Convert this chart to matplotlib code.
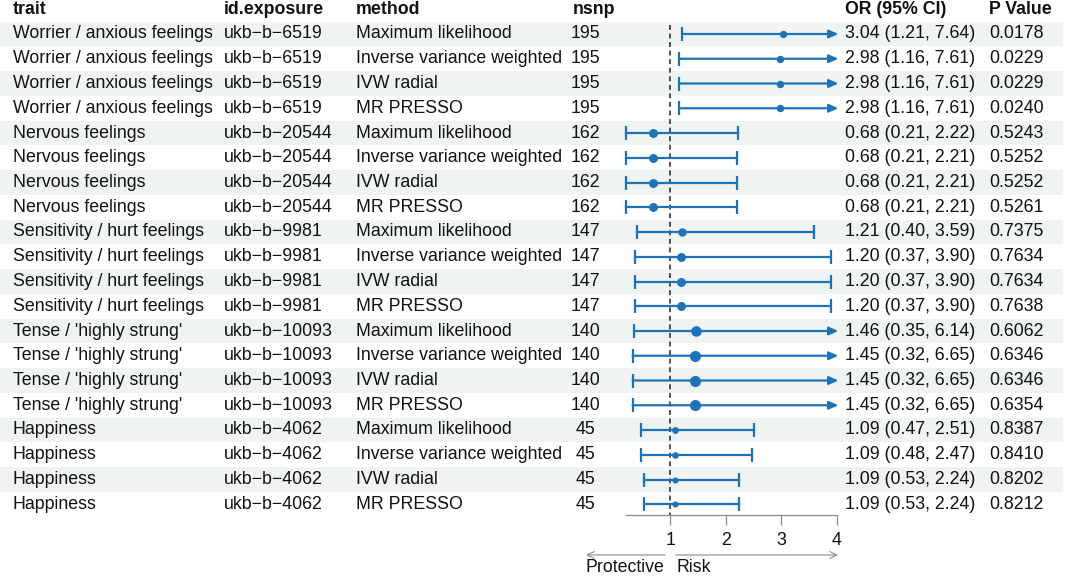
import numpy as np
import matplotlib
matplotlib.use("Agg")
import matplotlib.pyplot as plt
from matplotlib.patches import Rectangle

plt.rcParams['font.family'] = ['Liberation Sans', 'DejaVu Sans']

# ---------------- data ----------------
traits = (["Worrier / anxious feelings"] * 4 + ["Nervous feelings"] * 4 +
          ["Sensitivity / hurt feelings"] * 4 + ["Tense / 'highly strung'"] * 4 +
          ["Happiness"] * 4)
exposures = (["ukb\u2212b\u22126519"] * 4 + ["ukb\u2212b\u221220544"] * 4 +
             ["ukb\u2212b\u22129981"] * 4 + ["ukb\u2212b\u221210093"] * 4 +
             ["ukb\u2212b\u22124062"] * 4)
methods = ["Maximum likelihood", "Inverse variance weighted", "IVW radial", "MR PRESSO"] * 5
nsnp = [195] * 4 + [162] * 4 + [147] * 4 + [140] * 4 + [45] * 4
or_est = [3.04, 2.98, 2.98, 2.98,
          0.68, 0.68, 0.68, 0.68,
          1.21, 1.20, 1.20, 1.20,
          1.46, 1.45, 1.45, 1.45,
          1.09, 1.09, 1.09, 1.09]
or_low = [1.21, 1.16, 1.16, 1.16,
          0.21, 0.21, 0.21, 0.21,
          0.40, 0.37, 0.37, 0.37,
          0.35, 0.32, 0.32, 0.32,
          0.47, 0.48, 0.53, 0.53]
or_high = [7.64, 7.61, 7.61, 7.61,
           2.22, 2.21, 2.21, 2.21,
           3.59, 3.90, 3.90, 3.90,
           6.14, 6.65, 6.65, 6.65,
           2.51, 2.47, 2.24, 2.24]
pvals = [0.0178, 0.0229, 0.0229, 0.0240,
         0.5243, 0.5252, 0.5252, 0.5261,
         0.7375, 0.7634, 0.7634, 0.7638,
         0.6062, 0.6346, 0.6346, 0.6354,
         0.8387, 0.8410, 0.8202, 0.8212]
headers = ["trait", "id.exposure", "method", "nsnp", "OR (95% CI)", "P Value"]
xticks = [1, 2, 3, 4]
x_max = 4

# ---------------- layout / style ----------------
W, H = 1065, 577
FS = 12.8
BLUE = "#1D72B8"
SHADE = "#EFF3F2"
ROW0, ROWH = 34.0, 24.75
HEAD_Y = 9.5
COL_X = [13, 224, 356, 573, 845, 989]
CELL_X = [13, 224, 356, 585.5, 845, 989]
CELL_HA = ['left', 'left', 'left', 'center', 'left', 'left']
PX_ONE, PX_UNIT = 670.3, 55.47
FA_L, FA_R = 580, 860
AXIS_Y = 515

n = len(traits)
ys = ROW0 + ROWH * np.arange(n)

fig = plt.figure(figsize=(W / 100, H / 100), dpi=100)
bg = fig.add_axes([0, 0, 1, 1])
bg.set_xlim(0, W)
bg.set_ylim(H, 0)
bg.axis('off')

for i in range(0, n, 2):
    bg.add_patch(Rectangle((0, ys[i] - ROWH / 2), 1063, ROWH, facecolor=SHADE,
                           edgecolor='none', zorder=0))

for x, h in zip(COL_X, headers):
    bg.text(x, HEAD_Y, h, fontsize=FS, fontweight='bold', va='center', ha='left',
            color='#111111')

or_txt = [f"{e:.2f} ({l:.2f}, {u:.2f})" for e, l, u in zip(or_est, or_low, or_high)]
p_txt = [f"{p:.4f}" for p in pvals]
cols = [traits, exposures, methods, [str(v) for v in nsnp], or_txt, p_txt]
for x, ha, col in zip(CELL_X, CELL_HA, cols):
    for y, t in zip(ys, col):
        bg.text(x, y, t, fontsize=FS, va='center', ha=ha, color='#111111')

# ---------------- forest panel ----------------
fa = fig.add_axes([FA_L / W, 0, (FA_R - FA_L) / W, 1])
fa.patch.set_alpha(0)
fa.set_xlim(1 - (PX_ONE - FA_L) / PX_UNIT, 1 + (FA_R - PX_ONE) / PX_UNIT)
fa.set_ylim(H, 0)

x_min = min(or_low)
fa.plot([1, 1], [ys[0] - ROWH / 2 + 3, AXIS_Y], color='#222222', lw=1.1,
        linestyle=(0, (3.2, 2.4)), zorder=1)

se = (np.log(or_high) - np.log(or_low)) / (2 * 1.96)
dot_d_px = 12.5 * se
CAP = 7
for y, e, lo, hi, d in zip(ys, or_est, or_low, or_high, dot_d_px):
    fa.plot([lo, lo], [y - CAP, y + CAP], color=BLUE, lw=1.6, solid_capstyle='butt', zorder=2)
    if hi > x_max:
        fa.annotate('', xy=(x_max + 0.03, y), xytext=(lo, y),
                    arrowprops=dict(arrowstyle='-|>,head_length=0.54,head_width=0.24',
                                    color=BLUE, lw=1.6, shrinkA=0, shrinkB=0,
                                    mutation_scale=10), zorder=2)
    else:
        fa.plot([lo, hi], [y, y], color=BLUE, lw=1.6, zorder=2)
        fa.plot([hi, hi], [y - CAP, y + CAP], color=BLUE, lw=1.6, solid_capstyle='butt', zorder=2)
    fa.plot([e], [y], marker='o', ms=d * 0.72, color=BLUE, mec=BLUE, zorder=3)

for s in ['left', 'right', 'top']:
    fa.spines[s].set_visible(False)
fa.spines['bottom'].set_position(('data', AXIS_Y))
fa.spines['bottom'].set_bounds(x_min, x_max)
fa.spines['bottom'].set_color('#8a8a8a')
fa.spines['bottom'].set_linewidth(0.9)
fa.set_yticks([])
fa.set_xticks(xticks)
fa.set_xticklabels([str(t) for t in xticks])
fa.tick_params(axis='x', direction='out', length=7, width=0.9, color='#8a8a8a',
               labelsize=FS, labelcolor='#111111', pad=5)

# direction arrows
ARR_Y = 555
bg.annotate('', xy=(586, ARR_Y), xytext=(665, ARR_Y),
            arrowprops=dict(arrowstyle='->,head_length=0.5,head_width=0.25', color='#8a8a8a',
                            lw=0.8, shrinkA=0, shrinkB=0, mutation_scale=10))
bg.annotate('', xy=(838, ARR_Y), xytext=(676, ARR_Y),
            arrowprops=dict(arrowstyle='->,head_length=0.5,head_width=0.25', color='#8a8a8a',
                            lw=0.8, shrinkA=0, shrinkB=0, mutation_scale=10))
bg.text(664, 567, "Protective", fontsize=FS, ha='right', va='center', color='#111111')
bg.text(676, 567, "Risk", fontsize=FS, ha='left', va='center', color='#111111')

fig.savefig("out.png", dpi=100)
